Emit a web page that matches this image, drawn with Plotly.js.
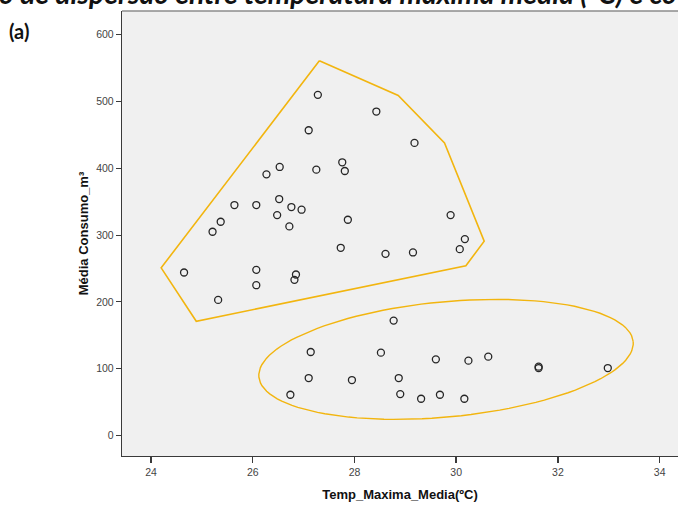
<!DOCTYPE html>
<html>
<head>
<meta charset="utf-8">
<script src="https://cdn.plot.ly/plotly-3.0.1.min.js"></script>
<style>html,body{margin:0;padding:0;background:#fff;overflow:hidden;}#chart{width:678px;height:505px;}</style>
</head>
<body>
<div id="chart"></div>
<script>
// Upper group (points)
const upperTemp = [27.28, 27.10, 26.53, 26.27, 27.25, 27.76, 27.81, 25.64, 26.07, 26.52,
  26.76, 26.96, 26.48, 26.72, 27.87, 25.37, 25.21, 27.73, 24.65, 26.07,
  26.07, 26.85, 26.82, 25.32, 28.43, 29.18, 29.89, 30.17, 30.07, 28.61, 29.15];
const upperCons = [510, 457, 402, 391, 398, 409, 396, 345, 345, 354,
  342, 338, 330, 313, 323, 320, 305, 281, 244, 248,
  225, 241, 233, 203, 485, 438, 330, 294, 279, 272, 274];
// Lower group (points)
const lowerTemp = [28.77, 27.14, 28.52, 29.60, 30.24, 30.63, 31.62, 31.62, 32.98, 27.10,
  27.95, 28.87, 26.74, 28.90, 29.31, 29.68, 30.16];
const lowerCons = [172, 125, 124, 114, 112, 118, 101, 103, 101, 86,
  83, 86, 61, 62, 55, 61, 55];
// Hull outline around the upper group
const hullTemp = [27.31, 28.86, 29.77, 30.55, 30.19, 24.89, 24.20, 27.31];
const hullCons = [561, 509, 438, 291, 254, 171, 251, 561];
// Ellipse around the lower group: centre (data), semi-axes (px), tilt (deg)
const ellCentre = [29.80, 114];
const ellAxesPx = [188, 57.6];
const ellTiltDeg = 5.4;

const xTicks = [24, 26, 28, 30, 32, 34];
const yTicks = [0, 100, 200, 300, 400, 500, 600];

const W = 678, H = 505;
const M = {l: 122, r: 0, t: 11, b: 49};
const xRange = [23.43, 34.36];
const yRange = [-30.7, 635.5];

const kx = (W - M.l - M.r) / (xRange[1] - xRange[0]);
const ky = (H - M.t - M.b) / (yRange[1] - yRange[0]);
const ex = [], ey = [];
const th = ellTiltDeg * Math.PI / 180;
for (let i = 0; i <= 120; i++) {
  const t = 2 * Math.PI * i / 120;
  const px = ellAxesPx[0] * Math.cos(t) * Math.cos(th) - ellAxesPx[1] * Math.sin(t) * Math.sin(th);
  const py = ellAxesPx[0] * Math.cos(t) * Math.sin(th) + ellAxesPx[1] * Math.sin(t) * Math.cos(th);
  ex.push(ellCentre[0] + px / kx);
  ey.push(ellCentre[1] + py / ky);
}

const outlineColor = '#F2B50F';
const markerStyle = {symbol: 'circle-open', size: 7, color: '#262626', line: {width: 1.3, color: '#262626'}};

const traces = [
  {x: hullTemp, y: hullCons, mode: 'lines', line: {color: outlineColor, width: 1.6}, hoverinfo: 'skip', showlegend: false},
  {x: ex, y: ey, mode: 'lines', line: {color: outlineColor, width: 1.4}, hoverinfo: 'skip', showlegend: false},
  {x: upperTemp, y: upperCons, mode: 'markers', marker: markerStyle, showlegend: false},
  {x: lowerTemp, y: lowerCons, mode: 'markers', marker: markerStyle, showlegend: false}
];

const axFont = {family: 'Liberation Sans, Arial, sans-serif', size: 10.5, color: '#444'};
const layout = {
  width: W, height: H,
  margin: M,
  paper_bgcolor: '#ffffff',
  plot_bgcolor: '#f0f0f0',
  showlegend: false,
  xaxis: {
    range: xRange, tickvals: xTicks, ticktext: xTicks.map(String),
    showgrid: false, zeroline: false, showline: true, linecolor: '#3a3a3a', linewidth: 1.2,
    ticks: 'outside', ticklen: 6, tickwidth: 1.5, tickcolor: '#3a3a3a',
    tickfont: axFont,
    title: {text: 'Temp_Maxima_Media(ºC)', standoff: 13, font: {family: 'Liberation Sans, Arial, sans-serif', size: 13, color: '#111', weight: 'bold'}}
  },
  yaxis: {
    range: yRange, tickvals: yTicks, ticktext: yTicks.map(String),
    showgrid: false, zeroline: false, showline: true, linecolor: '#3a3a3a', linewidth: 1.2,
    ticks: 'outside', ticklen: 5, tickwidth: 1.2, tickcolor: '#3a3a3a',
    tickfont: axFont,
    title: {text: 'Média Consumo_m³', standoff: 4, font: {family: 'Liberation Sans, Arial, sans-serif', size: 13, color: '#111', weight: 'bold'}}
  },
  shapes: [
    {type: 'line', xref: 'paper', yref: 'paper', x0: 0, x1: 1, y0: 1, y1: 1, line: {color: '#8c8c8c', width: 1.5}}
  ],
  annotations: [
    {text: '(a)', xref: 'paper', yref: 'paper', x: -0.207, y: 0.955, xanchor: 'left', yanchor: 'middle', showarrow: false,
     font: {family: 'Lato, Open Sans, sans-serif', size: 20, color: '#111', weight: 'bold'}},
    {text: 'o de dispersão entre temperatura máxima média (ºC) e co', xref: 'paper', yref: 'paper', x: -0.224, y: 0.9985, xanchor: 'left', yanchor: 'bottom', showarrow: false,
     font: {family: 'Lato, Open Sans, sans-serif', size: 28.3, color: '#111', weight: 'bold', style: 'italic'}}
  ]
};

Plotly.newPlot('chart', traces, layout, {displayModeBar: false, staticPlot: true});
</script>
</body>
</html>
